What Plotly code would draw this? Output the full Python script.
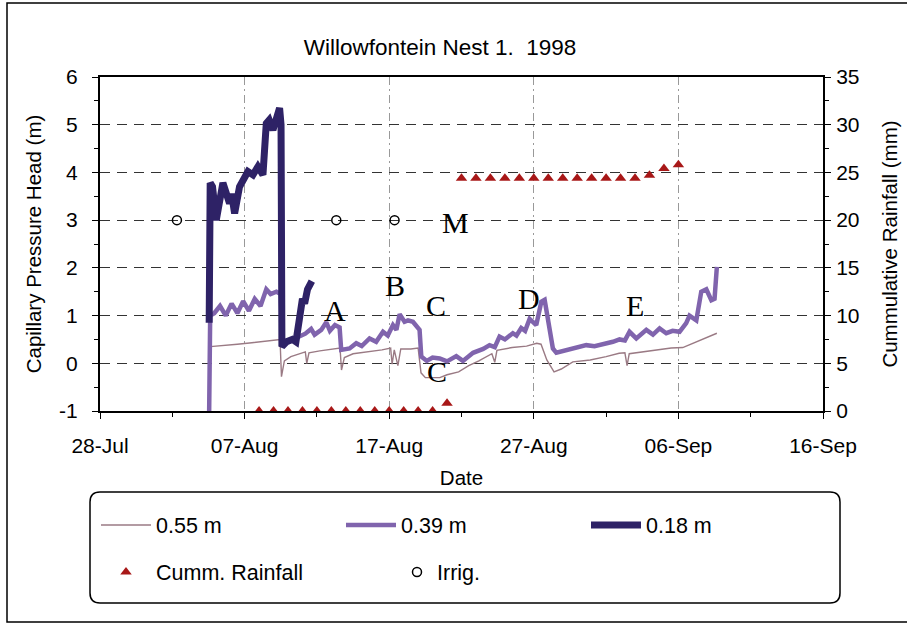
import pandas as pd
import plotly.graph_objects as go

START = pd.Timestamp("1998-07-28")

# all x values are days after 28-Jul-1998
d_018 = [7.55, 7.62, 7.78, 8.04, 8.5, 8.96, 9.1, 9.31, 9.65, 9.88, 10.23, 10.58, 10.92, 11.27,
         11.5, 11.7, 11.96, 12.42, 12.52, 12.58, 12.9, 13.3, 13.55, 13.75, 14.0, 14.15, 14.35, 14.65]
v_018 = [0.85, 3.78, 3.7, 3.0, 3.78, 3.35, 3.55, 3.14, 3.7, 3.84, 4.02, 3.95, 4.12, 3.95,
         5.03, 5.1, 4.89, 5.35, 5.0, 0.35, 0.45, 0.5, 0.45, 0.85, 1.35, 1.25, 1.55, 1.72]

d_039 = [7.55, 7.62, 7.9, 8.3, 8.7, 9.1, 9.5, 9.9, 10.3, 10.7, 11.1, 11.5, 11.8, 12.2, 12.5,
         12.6, 13.0, 13.4, 13.8, 14.2, 14.6, 14.84, 15.3, 15.65, 15.9, 16.25, 16.57, 16.68,
         17.26, 17.72, 18.1, 18.64, 19.1, 19.57, 19.9, 20.26, 20.5, 20.72, 21.06, 21.3, 21.64, 21.9,
         22.1, 22.22, 22.6, 23.0, 23.49, 24.0, 24.64, 25.1, 25.8, 26.5, 26.94, 27.3, 27.63, 28.0,
         28.55, 28.8, 29.13, 29.4, 29.71, 30.17, 30.52, 30.75, 30.95, 31.32, 31.56, 32.25, 32.7,
         33.3, 33.63, 34.2, 34.55, 35.0, 35.47, 35.93, 36.3, 36.62, 37.09, 37.78, 38.24, 38.7,
         39.16, 39.6, 40.08, 40.54, 40.77, 41.24, 41.58, 41.93, 42.28, 42.5, 42.66]
v_039 = [-1.0, 1.0, 1.05, 1.2, 1.0, 1.25, 1.05, 1.3, 1.1, 1.35, 1.2, 1.55, 1.45, 1.5, 1.45,
         0.4, 0.45, 0.5, 0.56, 0.62, 0.72, 0.6, 0.7, 0.86, 0.68, 0.8, 0.75, 0.28,
         0.31, 0.42, 0.36, 0.52, 0.45, 0.66, 0.58, 0.8, 0.7, 1.03, 0.87, 0.9, 0.87, 0.78,
         0.7, 0.14, 0.05, 0.12, 0.1, 0.04, 0.15, 0.05, 0.22, 0.3, 0.38, 0.34, 0.56, 0.5,
         0.63, 0.58, 0.74, 0.68, 0.93, 0.8, 1.29, 1.33, 1.0, 0.31, 0.22, 0.28, 0.31,
         0.36, 0.38, 0.36, 0.38, 0.42, 0.45, 0.5, 0.48, 0.66, 0.52, 0.7, 0.6, 0.73,
         0.63, 0.68, 0.66, 0.84, 1.0, 0.9, 1.5, 1.55, 1.32, 1.35, 2.02]

d_055 = [7.62, 8.5, 9.5, 10.5, 11.5, 12.45, 12.55, 12.75, 13.2, 13.8, 14.2, 14.3, 14.45, 15.2,
         16.0, 16.6, 16.7, 16.9, 17.5, 18.5, 19.5, 20.1, 20.2, 20.35, 20.6, 20.8, 21.5, 22.0,
         22.2, 22.5, 23.5, 24.0, 24.8, 25.5, 26.2, 27.1, 27.3, 27.45, 28.5, 29.5, 30.2, 30.5,
         30.9, 31.4, 31.9, 32.7, 33.9, 35.0, 35.9, 36.3, 36.45, 36.6, 37.5, 38.5, 39.5, 40.3,
         41.0, 41.6, 42.2, 42.66]
v_055 = [0.35, 0.38, 0.4, 0.43, 0.47, 0.5, -0.28, 0.05, 0.14, 0.2, 0.24, 0.0, 0.22, 0.26,
         0.3, 0.32, -0.14, 0.12, 0.2, 0.24, 0.28, 0.32, -0.02, 0.28, -0.05, 0.3, 0.3, 0.32,
         -0.2, -0.3, -0.3, -0.24, -0.18, -0.05, 0.05, 0.2, 0.02, 0.27, 0.33, 0.36, 0.42, 0.4,
         0.07, -0.18, -0.12, 0.03, 0.07, 0.14, 0.21, 0.22, -0.05, 0.2, 0.24, 0.28, 0.32, 0.33,
         0.42, 0.5, 0.58, 0.63]

d_rain = [11, 12, 13, 14, 15, 16, 17, 18, 19, 20, 21, 22, 23, 24,
          25, 26, 27, 28, 29, 30, 31, 32, 33, 34, 35, 36, 37, 38, 39, 40]
v_rain = [0, 0, 0, 0, 0, 0, 0, 0, 0, 0, 0, 0, 0, 0.8,
          24.4, 24.4, 24.4, 24.4, 24.4, 24.4, 24.4, 24.4, 24.4, 24.4, 24.4, 24.4, 24.4, 24.7, 25.4, 25.8]

d_irrig = [5.32, 16.34, 20.37]
v_irrig = [20, 20, 20]

# left axis ticks (plain hyphen for the minus sign, as in the original)
head_ticks = [-1, 0, 1, 2, 3, 4, 5, 6]
head_labels = ["-1", "0", "1", "2", "3", "4", "5", "6"]

# letter labels: (text, day, head)
letters = [("A", 16.25, 1.1), ("B", 20.4, 1.62), ("C", 23.25, 1.22), ("C", 23.3, -0.18),
           ("D", 29.7, 1.35), ("E", 36.97, 1.22), ("M", 24.6, 2.95)]


def to_dates(days):
    return [START + pd.Timedelta(days=d) for d in days]


# plot area in pixels
L, R, T, B = 100, 823, 77, 411
W, H = 907, 625


def px(x):
    return (x - L) / (R - L)


def py(y):
    return (B - y) / (B - T)


FONT = "Liberation Sans, Arial, sans-serif"

fig = go.Figure()
fig.add_trace(go.Scatter(x=to_dates(d_055), y=v_055, mode="lines", name="0.55 m", showlegend=True,
                         line=dict(color="#9a7a84", width=1.4), legend="legend"))
fig.add_trace(go.Scatter(x=to_dates(d_039), y=v_039, mode="lines", name="0.39 m", showlegend=True,
                         line=dict(color="#8064ad", width=4.5), legend="legend2"))
fig.add_trace(go.Scatter(x=to_dates(d_018), y=v_018, mode="lines", name="0.18 m", showlegend=True,
                         line=dict(color="#2e2266", width=7), legend="legend3"))
fig.add_trace(go.Scatter(x=to_dates(d_rain), y=v_rain, mode="markers", name="Cumm. Rainfall",
                         yaxis="y2", showlegend=True,
                         marker=dict(symbol="triangle-up", size=10, color="#a81818"),
                         legend="legend4"))
fig.add_trace(go.Scatter(x=to_dates(d_irrig), y=v_irrig, mode="markers", name="Irrig.",
                         yaxis="y2", showlegend=True,
                         marker=dict(symbol="circle-open", size=9, color="black", line=dict(width=1.5)),
                         legend="legend5"))

for txt, d, v in letters:
    fig.add_annotation(x=START + pd.Timedelta(days=d), y=v, text=txt, showarrow=False,
                       font=dict(family="Liberation Serif, Times New Roman, serif", size=30,
                                 color="black"))

# outer frame and rounded legend box
fig.add_shape(type="rect", xref="paper", yref="paper", x0=px(7), x1=px(930), y0=py(622), y1=py(3),
              line=dict(color="black", width=1.5), layer="below")
bx0, bx1, by0, by1, r = 90, 840, 492, 603, 10
path = (f"M {px(bx0 + r)},{py(by0)} L {px(bx1 - r)},{py(by0)} Q {px(bx1)},{py(by0)} {px(bx1)},{py(by0 + r)} "
        f"L {px(bx1)},{py(by1 - r)} Q {px(bx1)},{py(by1)} {px(bx1 - r)},{py(by1)} "
        f"L {px(bx0 + r)},{py(by1)} Q {px(bx0)},{py(by1)} {px(bx0)},{py(by1 - r)} "
        f"L {px(bx0)},{py(by0 + r)} Q {px(bx0)},{py(by0)} {px(bx0 + r)},{py(by0)} Z")
fig.add_shape(type="path", xref="paper", yref="paper", path=path, line=dict(color="black", width=1.5))

leg = dict(xanchor="left", yanchor="middle", orientation="h", bgcolor="rgba(0,0,0,0)",
           borderwidth=0, itemwidth=50, font=dict(family=FONT, size=21.5, color="black"))

DAY = 86400000
fig.update_layout(
    width=W, height=H,
    margin=dict(l=L, r=W - R, t=T, b=H - B, autoexpand=False),
    paper_bgcolor="white", plot_bgcolor="white", showlegend=True,
    font=dict(family=FONT, size=21, color="black"),
    title=dict(text="Willowfontein Nest 1.\u00a0 1998", x=440 / W, xanchor="center",
               y=1 - 47 / H, yanchor="middle", font=dict(size=22.5)),
    xaxis=dict(type="date", range=[START, START + pd.Timedelta(days=50)], tick0=START, dtick=10 * DAY,
               tickformat="%d-%b", showgrid=True, gridcolor="#999999", griddash="8px,4px,2px,4px",
               gridwidth=1, showline=True, linecolor="black", linewidth=2, mirror=True,
               ticks="outside", ticklen=6, tickcolor="black", ticklabelstandoff=9, automargin=False,
               tickfont=dict(size=21),
               minor=dict(tick0=START, dtick=5 * DAY, ticks="outside", ticklen=4, tickcolor="black",
                          showgrid=False),
               title=dict(text="Date", standoff=14, font=dict(size=20.5))),
    yaxis=dict(range=[-1, 6], tickmode="array", tickvals=head_ticks, ticktext=head_labels,
               showgrid=True, gridcolor="#333333", griddash="10px,7px",
               gridwidth=1, zeroline=False, showline=True, linecolor="black", linewidth=2,
               ticks="outside", ticklen=6, tickcolor="black", ticklabelstandoff=10, automargin=False,
               tickfont=dict(size=21),
               minor=dict(dtick=0.5, ticks="outside", ticklen=4, tickcolor="black", showgrid=False),
               title=dict(text="Capillary Pressure Head (m)", standoff=12, font=dict(size=20.5))),
    yaxis2=dict(overlaying="y", side="right", range=[0, 35], dtick=5, showgrid=False, zeroline=False,
                showline=True, linecolor="black", linewidth=2, ticks="outside", ticklen=6,
                tickcolor="black", ticklabelstandoff=1, automargin=False, tickfont=dict(size=21),
                minor=dict(dtick=2.5, ticks="outside", ticklen=4, tickcolor="black"),
                title=dict(text="Cummulative Rainfall (mm)", standoff=24, font=dict(size=20.5))),
    legend=dict(leg, x=px(96), y=py(525)),
    legend2=dict(leg, x=px(341), y=py(525)),
    legend3=dict(leg, x=px(586), y=py(525)),
    legend4=dict(leg, x=px(96), y=py(572)),
    legend5=dict(leg, x=px(397), y=py(572), itemwidth=30),
)

# the page body has an 8px default margin; drop it so the figure sits at the window origin
fig.write_html("out.html", config={"displayModeBar": False},
               post_script="document.body.style.margin='0';")
